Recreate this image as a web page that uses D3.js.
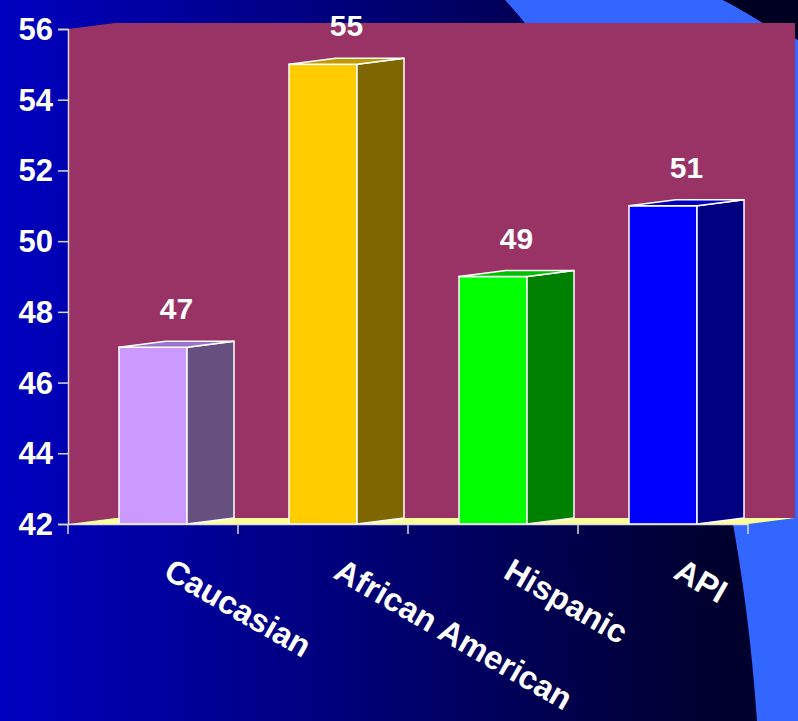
<!DOCTYPE html>
<html>
<head>
<meta charset="utf-8">
<script src="https://cdn.jsdelivr.net/npm/d3@7"></script>
<style>
  html, body { margin: 0; padding: 0; background: #000080; }
  svg { display: block; }
  text { font-family: "Liberation Sans", Arial, sans-serif; font-weight: bold; fill: white; }
</style>
</head>
<body>
<svg id="chart"></svg>
<script>
// data
var categories = ["Caucasian", "African American", "Hispanic", "API"];
var values = [47, 55, 49, 51];
var yTicks = [42, 44, 46, 48, 50, 52, 54, 56];
var frontColors = ["#cc99ff", "#ffcc00", "#00ff00", "#0000ff"];
var sideColors = ["#66507f", "#806600", "#008000", "#000080"];
var topColors = ["#9973cc", "#c09900", "#00bf00", "#0000c0"];

var width = 798, height = 721;
var depthX = 47, depthY = -6;   // fake 3d offset

var svg = d3.select("#chart").attr("width", width).attr("height", height);

// background gradient
var defs = svg.append("defs");
var grad = defs.append("linearGradient").attr("id", "bg")
    .attr("x1", "0").attr("y1", "0").attr("x2", "1").attr("y2", "0");
grad.append("stop").attr("offset", "0").attr("stop-color", "#0000c0");
grad.append("stop").attr("offset", "0.88").attr("stop-color", "#000030");
grad.append("stop").attr("offset", "1").attr("stop-color", "#000028");

svg.append("rect").attr("width", width).attr("height", height).attr("fill", "url(#bg)");

// swoosh on the right
svg.append("path")
    .attr("d", "M505,0 C640,150 735,400 757,721 L798,721 L798,40 C785,32 770,26 763,23 C745,12 735,6 723,0 Z")
    .attr("fill", "#3366ff");
svg.append("path")
    .attr("d", "M723,0 L798,0 L798,40 C785,32 770,26 763,23 C745,12 735,6 723,0 Z")
    .attr("fill", "#000022");

var x = d3.scaleBand().domain(categories).range([68, 748]).padding(0);
var y = d3.scaleLinear().domain([42, 56]).range([524, 29]);

var x0 = x.range()[0], x1 = x.range()[1];
var yb = y(42), yt = y(56);

// wall (left side + back)
svg.append("path")
    .attr("d", "M" + x0 + "," + yt +
        " L" + (x0 + depthX) + "," + (yt + depthY) +
        " L" + (x1 + depthX) + "," + (yt + depthY) +
        " L" + (x1 + depthX) + "," + (yb + depthY) +
        " L" + (x0 + depthX) + "," + (yb + depthY) +
        " L" + x0 + "," + yb + " Z")
    .attr("fill", "#993366");

// floor
svg.append("path")
    .attr("d", "M" + x0 + "," + yb +
        " L" + x1 + "," + yb +
        " L" + (x1 + depthX) + "," + (yb + depthY) +
        " L" + (x0 + depthX) + "," + (yb + depthY) + " Z")
    .attr("fill", "#ffff99");

// bars
var bw = x.bandwidth() * 0.4;
var bars = svg.selectAll("g.bar").data(categories).enter().append("g").attr("class", "bar");

bars.each(function (c, i) {
    var g = d3.select(this);
    var bx = x(c) + (x.bandwidth() - bw) / 2;
    var top = y(values[i]);
    // front
    g.append("rect")
        .attr("x", bx).attr("y", top)
        .attr("width", bw).attr("height", yb - top)
        .attr("fill", frontColors[i])
        .attr("stroke", "white").attr("stroke-width", 1.5);
    // side
    g.append("path")
        .attr("d", "M" + (bx + bw) + "," + top +
            " L" + (bx + bw + depthX) + "," + (top + depthY) +
            " L" + (bx + bw + depthX) + "," + (yb + depthY) +
            " L" + (bx + bw) + "," + yb + " Z")
        .attr("fill", sideColors[i])
        .attr("stroke", "white").attr("stroke-width", 1.5).attr("stroke-linejoin", "round");
    // top
    g.append("path")
        .attr("d", "M" + bx + "," + top +
            " L" + (bx + depthX) + "," + (top + depthY) +
            " L" + (bx + bw + depthX) + "," + (top + depthY) +
            " L" + (bx + bw) + "," + top + " Z")
        .attr("fill", topColors[i])
        .attr("stroke", "white").attr("stroke-width", 1.5).attr("stroke-linejoin", "round");
    // value label
    g.append("text")
        .attr("x", bx + bw / 2 + depthX / 2)
        .attr("y", top + depthY - 22)
        .attr("text-anchor", "middle")
        .attr("font-size", "30px")
        .text(values[i]);
});

// y axis
var yAxis = svg.append("g")
    .attr("transform", "translate(" + x0 + ",0)")
    .call(d3.axisLeft(y).tickValues(yTicks).tickSize(10).tickPadding(5).tickFormat(d3.format("d")));
yAxis.select(".domain").attr("stroke", "#d8d8d8").attr("stroke-width", 1.5);
yAxis.selectAll(".tick line").attr("stroke", "#d8d8d8").attr("stroke-width", 1.5);
yAxis.selectAll(".tick text")
    .attr("font-size", "31px")
    .attr("font-family", "'Liberation Sans', Arial, sans-serif")
    .attr("font-weight", "bold")
    .attr("fill", "white")
    .attr("dy", "0.34em");

// x axis
var xAxis = svg.append("g")
    .attr("transform", "translate(0," + yb + ")")
    .call(d3.axisBottom(x).tickSize(0).tickFormat(""));
xAxis.select(".domain").attr("stroke", "#e0e0e0").attr("stroke-width", 1.5);
// tick marks at band edges
var edges = categories.map(function (c) { return x(c); }).concat([x1]);
xAxis.selectAll("line.edge").data(edges).enter().append("line")
    .attr("class", "edge")
    .attr("x1", function (d) { return d; }).attr("x2", function (d) { return d; })
    .attr("y1", 0).attr("y2", 10)
    .attr("stroke", "#d8d8d8").attr("stroke-width", 1.5);

// category labels, slanted
svg.selectAll("text.cat").data(categories).enter().append("text")
    .attr("class", "cat")
    .attr("transform", function (c) {
        return "translate(" + (x(c) + x.bandwidth() / 2 + 9) + ",577) rotate(30)";
    })
    .attr("font-size", "32.5px")
    .text(function (c) { return c; });
</script>
</body>
</html>
